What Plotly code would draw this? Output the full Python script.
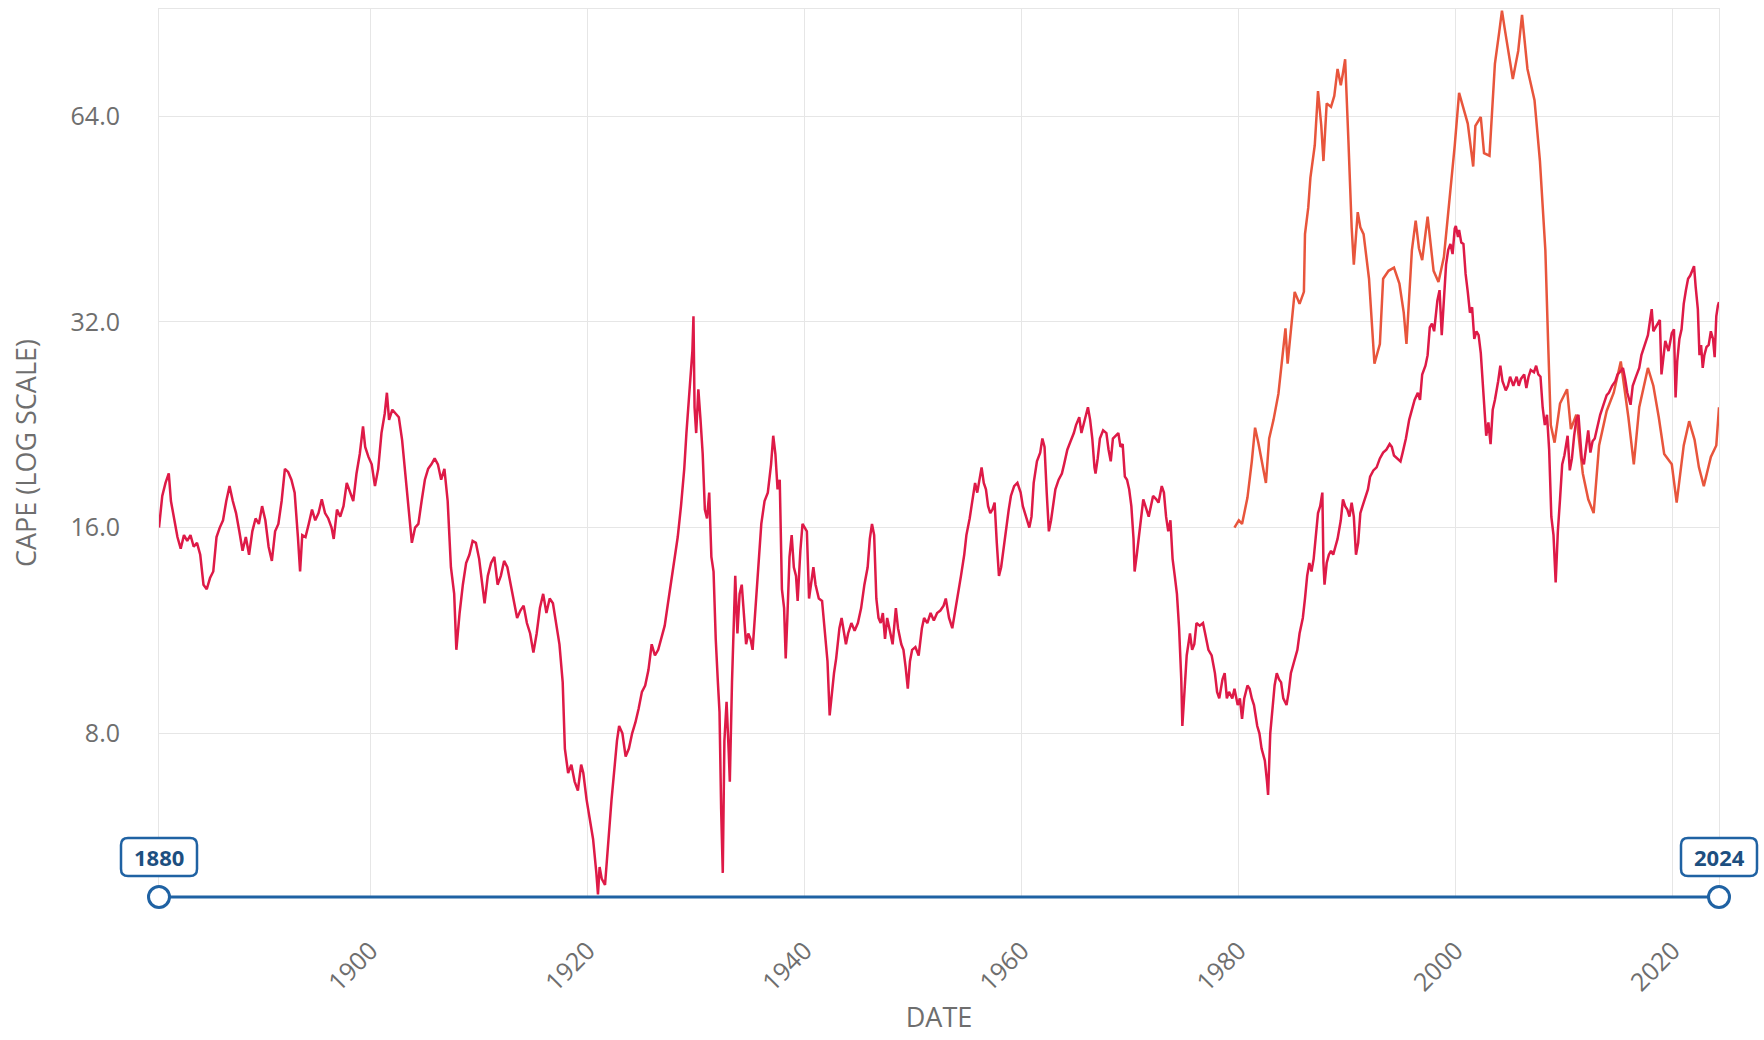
import plotly.graph_objects as go

# ---------------- data ----------------
us_dates = [
    1880.5, 1880.8, 1881.1, 1881.4, 1881.6, 1881.9, 1882.2, 1882.5, 1882.8, 1883.1, 1883.4, 1883.7,
    1884.0, 1884.3, 1884.6, 1884.9, 1885.2, 1885.5, 1885.8, 1886.1, 1886.4, 1886.7, 1887.0, 1887.3,
    1887.6, 1887.9, 1888.2, 1888.5, 1888.8, 1889.1, 1889.4, 1889.7, 1890.0, 1890.3, 1890.6, 1890.9,
    1891.2, 1891.5, 1891.8, 1892.1, 1892.4, 1892.7, 1893.0, 1893.3, 1893.5, 1893.7, 1894.0, 1894.3,
    1894.6, 1894.9, 1895.2, 1895.5, 1895.8, 1896.1, 1896.4, 1896.6, 1896.9, 1897.2, 1897.5, 1897.8,
    1898.1, 1898.4, 1898.7, 1899.0, 1899.3, 1899.5, 1899.8, 1900.1, 1900.4, 1900.7, 1901.0, 1901.3,
    1901.5, 1901.7, 1902.0, 1902.3, 1902.6, 1902.9, 1903.2, 1903.5, 1903.8, 1904.1, 1904.4, 1904.7,
    1905.0, 1905.3, 1905.6, 1905.9, 1906.2, 1906.5, 1906.8, 1907.1, 1907.4, 1907.7, 1907.9, 1908.2,
    1908.5, 1908.8, 1909.1, 1909.4, 1909.7, 1910.0, 1910.3, 1910.5, 1910.8, 1911.1, 1911.4, 1911.7,
    1912.0, 1912.3, 1912.6, 1912.9, 1913.2, 1913.5, 1913.8, 1914.1, 1914.4, 1914.7, 1915.0, 1915.3,
    1915.6, 1915.9, 1916.2, 1916.5, 1916.8, 1917.1, 1917.4, 1917.7, 1917.9, 1918.2, 1918.5, 1918.8,
    1919.1, 1919.4, 1919.6, 1919.9, 1920.2, 1920.5, 1920.8, 1920.95, 1921.1, 1921.3, 1921.6, 1921.9,
    1922.2, 1922.5, 1922.7, 1922.9, 1923.2, 1923.5, 1923.8, 1924.1, 1924.4, 1924.7, 1925.0, 1925.3,
    1925.6, 1925.9, 1926.2, 1926.5, 1926.8, 1927.1, 1927.4, 1927.7, 1928.0, 1928.3, 1928.6, 1928.9,
    1929.1, 1929.3, 1929.5, 1929.65, 1929.75, 1929.85, 1930.0, 1930.2, 1930.4, 1930.6, 1930.8, 1931.0,
    1931.2, 1931.4, 1931.6, 1931.8, 1932.0, 1932.15, 1932.3, 1932.45, 1932.6, 1932.8, 1933.0, 1933.1,
    1933.3, 1933.5, 1933.6, 1933.8, 1934.0, 1934.2, 1934.4, 1934.6, 1934.8, 1935.0, 1935.2, 1935.5,
    1935.8, 1936.0, 1936.3, 1936.6, 1936.9, 1937.1, 1937.3, 1937.5, 1937.7, 1937.9, 1938.1, 1938.25,
    1938.4, 1938.6, 1938.8, 1939.0, 1939.2, 1939.35, 1939.6, 1939.8, 1940.0, 1940.2, 1940.4, 1940.6,
    1940.8, 1941.0, 1941.3, 1941.6, 1941.9, 1942.1, 1942.3, 1942.5, 1942.7, 1942.9, 1943.2, 1943.4,
    1943.6, 1943.8, 1944.0, 1944.3, 1944.6, 1944.9, 1945.2, 1945.5, 1945.8, 1946.0, 1946.2, 1946.4,
    1946.6, 1946.8, 1947.0, 1947.2, 1947.4, 1947.6, 1947.9, 1948.1, 1948.4, 1948.6, 1948.9, 1949.1,
    1949.3, 1949.5, 1949.7, 1949.9, 1950.2, 1950.5, 1950.8, 1951.0, 1951.3, 1951.6, 1951.9, 1952.2,
    1952.5, 1952.8, 1953.0, 1953.3, 1953.6, 1953.8, 1954.1, 1954.4, 1954.7, 1954.9, 1955.2, 1955.5,
    1955.7, 1955.9, 1956.1, 1956.3, 1956.5, 1956.7, 1956.9, 1957.1, 1957.3, 1957.5, 1957.7, 1957.9,
    1958.1, 1958.3, 1958.5, 1958.8, 1959.0, 1959.3, 1959.6, 1959.9, 1960.1, 1960.4, 1960.7, 1960.9,
    1961.1, 1961.4, 1961.7, 1961.9, 1962.1, 1962.3, 1962.5, 1962.7, 1962.9, 1963.1, 1963.4, 1963.7,
    1963.9, 1964.2, 1964.5, 1964.8, 1965.0, 1965.3, 1965.5, 1965.7, 1965.9, 1966.1, 1966.3, 1966.5,
    1966.7, 1966.8, 1967.0, 1967.2, 1967.5, 1967.8, 1968.0, 1968.2, 1968.4, 1968.7, 1968.9, 1969.1,
    1969.3, 1969.5, 1969.7, 1969.9, 1970.1, 1970.3, 1970.4, 1970.6, 1970.8, 1971.0, 1971.2, 1971.5,
    1971.7, 1971.9, 1972.1, 1972.4, 1972.6, 1972.9, 1973.1, 1973.3, 1973.5, 1973.7, 1973.9, 1974.1,
    1974.3, 1974.5, 1974.7, 1974.8, 1975.0, 1975.2, 1975.5, 1975.7, 1975.9, 1976.1, 1976.4, 1976.7,
    1976.9, 1977.2, 1977.5, 1977.8, 1978.0, 1978.2, 1978.5, 1978.7, 1978.9, 1979.1, 1979.4, 1979.6,
    1979.9, 1980.1, 1980.3, 1980.5, 1980.8, 1981.0, 1981.2, 1981.4, 1981.7, 1981.9, 1982.1, 1982.4,
    1982.6, 1982.7, 1982.9, 1983.1, 1983.3, 1983.5, 1983.7, 1983.9, 1984.1, 1984.4, 1984.6, 1984.8,
    1985.1, 1985.4, 1985.6, 1985.9, 1986.1, 1986.3, 1986.5, 1986.7, 1986.9, 1987.1, 1987.3, 1987.5,
    1987.7, 1987.8, 1987.9, 1988.1, 1988.3, 1988.5, 1988.7, 1988.9, 1989.1, 1989.4, 1989.6, 1989.8,
    1990.0, 1990.2, 1990.4, 1990.6, 1990.8, 1991.0, 1991.2, 1991.4, 1991.6, 1991.9, 1992.1, 1992.4,
    1992.7, 1993.0, 1993.3, 1993.6, 1993.9, 1994.1, 1994.3, 1994.6, 1994.9, 1995.1, 1995.4, 1995.7,
    1995.9, 1996.2, 1996.5, 1996.7, 1996.9, 1997.2, 1997.4, 1997.6, 1997.8, 1998.0, 1998.3, 1998.5,
    1998.7, 1998.9, 1999.1, 1999.3, 1999.5, 1999.7, 1999.9, 2000.0, 2000.2, 2000.3, 2000.5, 2000.7,
    2000.9, 2001.1, 2001.3, 2001.5, 2001.7, 2001.9, 2002.1, 2002.3, 2002.5, 2002.7, 2002.8, 2003.0,
    2003.2, 2003.4, 2003.6, 2003.9, 2004.1, 2004.3, 2004.6, 2004.8, 2005.0, 2005.3, 2005.6, 2005.8,
    2006.0, 2006.3, 2006.5, 2006.7, 2006.9, 2007.2, 2007.4, 2007.6, 2007.8, 2008.0, 2008.2, 2008.4,
    2008.6, 2008.8, 2009.0, 2009.2, 2009.4, 2009.6, 2009.8, 2010.0, 2010.3, 2010.5, 2010.7, 2010.9,
    2011.1, 2011.3, 2011.6, 2011.8, 2012.0, 2012.2, 2012.4, 2012.6, 2012.8, 2013.0, 2013.3, 2013.6,
    2013.9, 2014.1, 2014.4, 2014.7, 2014.9, 2015.1, 2015.4, 2015.6, 2015.8, 2016.1, 2016.3, 2016.6,
    2016.9, 2017.1, 2017.4, 2017.7, 2017.9, 2018.05, 2018.2, 2018.5, 2018.8, 2018.95, 2019.1, 2019.3,
    2019.6, 2019.9, 2020.1, 2020.25, 2020.4, 2020.6, 2020.8, 2021.0, 2021.2, 2021.4, 2021.6, 2021.8,
    2021.95, 2022.1, 2022.3, 2022.45, 2022.6, 2022.75, 2022.9, 2023.1, 2023.3, 2023.5, 2023.7, 2023.85,
    2024.0, 2024.15, 2024.25,
]
us_cape = [
    16.0, 17.8, 18.6, 19.2, 17.5, 16.5, 15.5, 14.9, 15.6, 15.3, 15.6, 15.0,
    15.2, 14.6, 13.2, 13.0, 13.5, 13.8, 15.5, 16.0, 16.4, 17.5, 18.4, 17.5,
    16.8, 15.8, 14.8, 15.5, 14.6, 15.8, 16.5, 16.2, 17.2, 16.4, 15.0, 14.3,
    15.8, 16.2, 17.5, 19.5, 19.3, 18.8, 18.0, 15.5, 13.8, 15.6, 15.5, 16.2,
    17.0, 16.4, 16.8, 17.6, 16.8, 16.5, 16.0, 15.4, 17.0, 16.6, 17.2, 18.6,
    18.0, 17.5, 19.2, 20.5, 22.5, 21.0, 20.3, 19.8, 18.4, 19.5, 22.0, 23.5,
    25.2, 23.0, 23.8, 23.5, 23.2, 21.5, 19.0, 16.8, 15.2, 16.0, 16.2, 17.5,
    18.8, 19.5, 19.8, 20.2, 19.8, 18.8, 19.5, 17.5, 14.0, 12.8, 10.6, 12.0,
    13.2, 14.2, 14.6, 15.3, 15.2, 14.4, 13.2, 12.4, 13.6, 14.2, 14.5, 13.2,
    13.6, 14.3, 14.0, 13.2, 12.6, 11.8, 12.1, 12.3, 11.6, 11.2, 10.5, 11.2,
    12.2, 12.8, 12.0, 12.6, 12.4, 11.5, 10.8, 9.5, 7.6, 7.0, 7.2, 6.8,
    6.6, 7.2, 7.0, 6.4, 6.0, 5.6, 5.0, 4.65, 5.1, 4.9, 4.8, 5.6,
    6.4, 7.2, 7.8, 8.2, 8.0, 7.4, 7.6, 8.0, 8.3, 8.7, 9.2, 9.4,
    9.9, 10.8, 10.4, 10.6, 11.0, 11.5, 12.4, 13.4, 14.3, 15.5, 17.2, 19.5,
    22.0, 24.5, 26.5, 29.0, 32.6, 24.0, 22.0, 25.5, 23.0, 20.5, 17.0, 16.5,
    18.0, 14.5, 13.8, 11.0, 9.5, 8.6, 6.2, 5.0, 7.8, 8.9, 7.5, 6.8,
    9.5, 12.8, 13.6, 11.2, 12.8, 13.2, 12.0, 10.8, 11.2, 11.0, 10.6, 12.5,
    14.6, 16.2, 17.5, 18.0, 19.8, 21.8, 20.5, 18.2, 18.8, 13.0, 12.2, 10.3,
    11.8, 14.5, 15.6, 14.0, 13.6, 12.5, 14.8, 16.2, 16.0, 15.8, 12.6, 13.2,
    14.0, 13.2, 12.6, 12.5, 11.0, 10.2, 8.5, 9.2, 9.8, 10.3, 11.4, 11.8,
    11.3, 10.8, 11.2, 11.6, 11.3, 11.6, 12.2, 13.2, 14.0, 15.4, 16.2, 15.6,
    12.6, 11.8, 11.6, 12.0, 11.0, 11.8, 11.2, 10.8, 12.2, 11.4, 10.8, 10.6,
    10.0, 9.3, 10.2, 10.6, 10.7, 10.4, 11.4, 11.8, 11.6, 12.0, 11.7, 12.0,
    12.1, 12.3, 12.6, 11.8, 11.4, 11.9, 12.6, 13.6, 14.6, 15.6, 16.5, 17.8,
    18.6, 18.0, 18.8, 19.6, 18.6, 18.2, 17.2, 16.8, 17.0, 17.4, 15.2, 13.6,
    14.0, 14.8, 15.8, 17.0, 17.8, 18.4, 18.6, 18.0, 17.2, 16.6, 16.0, 16.6,
    18.6, 20.0, 20.6, 21.6, 21.0, 18.0, 15.8, 16.4, 17.2, 18.2, 18.8, 19.2,
    19.8, 20.8, 21.4, 22.0, 22.6, 23.2, 22.0, 22.6, 23.4, 24.0, 23.0, 21.6,
    19.6, 19.2, 20.2, 21.6, 22.2, 22.0, 20.8, 20.0, 21.6, 21.8, 22.0, 21.0,
    21.2, 19.0, 18.8, 18.2, 17.2, 15.4, 13.8, 14.6, 15.6, 16.6, 17.6, 17.0,
    16.6, 17.2, 17.8, 17.6, 17.4, 18.4, 18.0, 16.6, 15.8, 16.4, 14.4, 13.6,
    12.8, 11.4, 9.6, 8.2, 9.2, 10.4, 11.2, 10.6, 10.8, 11.6, 11.5, 11.6,
    11.2, 10.6, 10.4, 9.8, 9.2, 9.0, 9.6, 9.8, 9.0, 9.2, 9.0, 9.3,
    8.8, 9.0, 8.4, 9.0, 9.4, 9.3, 9.0, 8.8, 8.2, 8.0, 7.6, 7.3,
    6.8, 6.5, 8.0, 8.6, 9.4, 9.8, 9.6, 9.5, 9.0, 8.8, 9.2, 9.8,
    10.2, 10.6, 11.2, 11.8, 12.6, 13.6, 14.2, 13.8, 14.4, 15.6, 16.8, 17.2,
    18.0, 14.2, 13.2, 14.2, 14.6, 14.8, 14.6, 15.0, 15.4, 16.4, 17.6, 17.2,
    17.0, 16.6, 17.4, 16.6, 14.6, 15.2, 16.8, 17.2, 17.6, 18.2, 19.0, 19.4,
    19.6, 20.2, 20.6, 20.8, 21.2, 21.0, 20.4, 20.2, 20.0, 20.6, 21.6, 23.0,
    23.6, 24.6, 25.2, 24.6, 26.8, 27.6, 28.6, 31.4, 31.8, 31.0, 34.4, 35.6,
    30.6, 34.6, 38.8, 40.8, 41.6, 40.2, 43.8, 44.2, 42.6, 43.6, 41.8, 41.6,
    37.6, 35.4, 33.0, 33.6, 30.2, 31.0, 30.6, 28.8, 25.6, 22.2, 21.8, 22.8,
    21.2, 23.8, 24.6, 26.2, 27.6, 26.2, 25.4, 25.8, 26.6, 25.8, 26.6, 25.8,
    26.4, 26.8, 25.6, 26.6, 27.2, 27.0, 27.6, 26.8, 26.6, 24.0, 22.6, 23.4,
    20.8, 16.6, 15.6, 13.3, 15.8, 17.6, 19.8, 20.4, 21.8, 19.4, 20.2, 21.8,
    23.0, 23.4, 20.2, 19.8, 21.2, 22.2, 20.6, 21.4, 21.6, 22.4, 23.4, 24.2,
    25.0, 25.2, 25.8, 26.2, 26.8, 27.0, 27.4, 26.4, 25.2, 24.2, 25.8, 26.6,
    27.4, 28.6, 29.6, 30.6, 32.2, 33.4, 31.0, 31.6, 32.2, 26.8, 28.4, 30.0,
    29.0, 30.8, 31.2, 24.8, 28.0, 30.2, 31.2, 34.0, 35.6, 37.0, 37.4, 38.2,
    38.6, 36.0, 33.4, 28.6, 29.6, 27.4, 28.6, 29.4, 29.6, 31.0, 30.2, 28.4,
    32.6, 33.8, 34.2,
]

jp_dates = [
    1979.6, 1980.0, 1980.3, 1980.8, 1981.2, 1981.5, 1981.8, 1982.2, 1982.5, 1982.8, 1983.2, 1983.65,
    1984.0, 1984.3, 1984.5, 1984.8, 1985.15, 1985.6, 1986.0, 1986.1, 1986.4, 1986.6, 1987.0, 1987.3,
    1987.6, 1987.8, 1988.1, 1988.5, 1988.8, 1989.1, 1989.4, 1989.6, 1989.8, 1990.1, 1990.4, 1990.6,
    1990.96, 1991.2, 1991.5, 1992.0, 1992.3, 1992.5, 1993.0, 1993.3, 1993.8, 1994.3, 1994.8, 1995.2,
    1995.45, 1995.95, 1996.3, 1996.6, 1996.9, 1997.4, 1997.95, 1998.4, 1998.9, 1999.4, 1999.9, 2000.3,
    2000.6, 2001.1, 2001.6, 2001.8, 2002.3, 2002.6, 2003.1, 2003.6, 2004.0, 2004.25, 2004.5, 2004.75,
    2005.25, 2005.75, 2006.1, 2006.6, 2007.25, 2007.75, 2008.25, 2008.5, 2008.75, 2009.1, 2009.6, 2010.25,
    2010.6, 2011.1, 2011.4, 2011.7, 2012.2, 2012.7, 2013.2, 2013.9, 2014.55, 2015.2, 2015.9, 2016.4,
    2016.9, 2017.3, 2017.7, 2018.2, 2018.7, 2019.2, 2019.9, 2020.35, 2021.0, 2021.5, 2022.0, 2022.4,
    2022.85, 2023.5, 2024.0, 2024.25,
]
jp_cape = [
    16.0, 16.4, 16.2, 17.7, 20.0, 22.4, 21.3, 19.8, 18.6, 21.6, 23.0, 25.1,
    28.0, 31.3, 27.8, 31.0, 35.4, 34.0, 35.4, 43.0, 47.0, 52.0, 58.0, 69.6,
    62.0, 55.0, 66.8, 66.0, 68.5, 75.0, 71.0, 74.0, 77.5, 59.0, 44.0, 38.8,
    46.3, 44.0, 43.0, 37.0, 31.0, 27.8, 29.7, 37.0, 38.0, 38.4, 36.4, 33.0,
    29.7, 40.7, 45.0, 41.0, 39.4, 45.6, 38.0, 36.6, 39.8, 48.0, 58.0, 69.2,
    66.5, 62.4, 54.0, 61.9, 63.8, 56.5, 56.0, 76.3, 85.0, 91.3, 86.0, 81.6,
    72.5, 79.7, 90.0, 75.0, 67.5, 55.0, 40.7, 30.0, 22.6, 21.3, 24.3, 25.5,
    22.3, 23.4, 21.0, 19.2, 17.6, 16.8, 21.1, 23.7, 25.2, 28.0, 23.2, 19.8,
    24.0, 25.6, 27.4, 25.8, 23.2, 20.5, 19.8, 17.4, 21.1, 22.9, 21.5, 19.6,
    18.4, 20.3, 21.1, 24.0,
]

y_ticks = [8, 16, 32, 64]
y_tick_text = ["8.0", "16.0", "32.0", "64.0"]
x_ticks = [1900, 1920, 1940, 1960, 1980, 2000, 2020]
x_tick_text = ["1900", "1920", "1940", "1960", "1980", "2000", "2020"]
range_labels = ["1880", "2024"]

# ---------------- style ----------------
US_COLOR = "#de1a47"
JP_COLOR = "#e8553c"
BLUE = "#1f62a3"
DARK_BLUE = "#1d4f80"
GRID = "#e6e6e6"
TEXT = "#6e6e6e"
FONT = "Open Sans"

fig = go.Figure()
fig.add_trace(go.Scatter(x=jp_dates, y=jp_cape, mode="lines",
                         line=dict(color=JP_COLOR, width=2.5), name="Japan", hoverinfo="skip"))
fig.add_trace(go.Scatter(x=us_dates, y=us_cape, mode="lines",
                         line=dict(color=US_COLOR, width=2.5), name="US", hoverinfo="skip"))

x_start, x_end = us_dates[0], us_dates[-1]

# range-slider look (paper-referenced so it is not clipped): track, handles, label boxes
shapes = [dict(type="line", xref="paper", yref="paper", x0=0, x1=1, y0=0, y1=0,
               line=dict(color=BLUE, width=3), layer="above")]
w, y0b, y1b, r = 38, 21, 59, 7
box_path = (f"M{-w + r},{y0b} L{w - r},{y0b} Q{w},{y0b} {w},{y0b + r} L{w},{y1b - r} "
            f"Q{w},{y1b} {w - r},{y1b} L{-w + r},{y1b} Q{-w},{y1b} {-w},{y1b - r} "
            f"L{-w},{y0b + r} Q{-w},{y0b} {-w + r},{y0b} Z")
for px in (0, 1):
    shapes.append(dict(type="circle", xref="paper", yref="paper", xsizemode="pixel", ysizemode="pixel",
                       xanchor=px, yanchor=0, x0=-10.5, x1=10.5, y0=-10.5, y1=10.5,
                       fillcolor="white", line=dict(color=BLUE, width=3), layer="above"))
    shapes.append(dict(type="path", xref="paper", yref="paper", xsizemode="pixel", ysizemode="pixel",
                       xanchor=px, yanchor=0, path=box_path,
                       fillcolor="white", line=dict(color=BLUE, width=2.5), layer="above"))

annotations = []
for px, lab in zip((0, 1), range_labels):
    annotations.append(dict(x=px, y=0, xref="paper", yref="paper", text=f"<b>{lab}</b>",
                            showarrow=False, yshift=40, xanchor="center", yanchor="middle",
                            font=dict(family=FONT, size=22, color=DARK_BLUE)))

fig.update_layout(
    width=1764, height=1040,
    margin=dict(l=159, r=45, t=9, b=143),
    paper_bgcolor="white", plot_bgcolor="white",
    showlegend=False,
    font=dict(family=FONT, color=TEXT),
    shapes=shapes,
    annotations=annotations,
    xaxis=dict(
        range=[x_start, x_end], tickvals=x_ticks, ticktext=x_tick_text, tickangle=-45,
        showgrid=True, gridcolor=GRID, gridwidth=1, zeroline=False,
        showline=True, linecolor=GRID, mirror=True,
        ticks="", ticklabelstandoff=28,
        tickfont=dict(family=FONT, size=25, color=TEXT),
        title=dict(text="DATE", font=dict(family=FONT, size=27, color=TEXT), standoff=10),
    ),
    yaxis=dict(
        type="log", range=[0.6637, 1.9628], tickvals=y_ticks, ticktext=y_tick_text,
        showgrid=True, gridcolor=GRID, gridwidth=1, zeroline=False,
        showline=True, linecolor=GRID, mirror=True,
        ticks="", ticklabelstandoff=33,
        tickfont=dict(family=FONT, size=25, color=TEXT),
        title=dict(text="CAPE (LOG SCALE)", font=dict(family=FONT, size=27, color=TEXT), standoff=26),
    ),
)

fig.write_html("out.html")
